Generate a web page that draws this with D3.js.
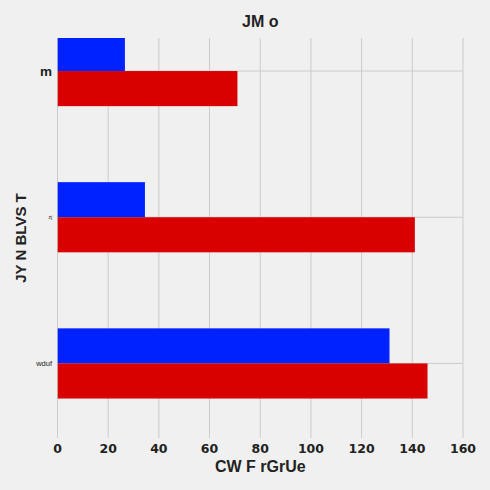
<!DOCTYPE html>
<html>
<head>
<meta charset="utf-8">
<script src="https://cdn.jsdelivr.net/npm/d3@7"></script>
<style>
	html, body { margin: 0; padding: 0; background: #f0f0f0; }
	svg { display: block; }
</style>
</head>
<body>
<div class="chart"></div>
<script>
	'use strict';

	// categories from bottom to top
	var categories = ['wduf', 'zj', 'm'];
	var blueValues = [131, 34.5, 26.6];
	var redValues = [146, 141, 71];
	var xTicks = [0, 20, 40, 60, 80, 100, 120, 140, 160];
	var labelSizes = { wduf: 7.5, zj: 5, m: 13.5 };
	var labelWeights = { wduf: 'normal', zj: 'normal', m: 'bold' };

	var width = 490, height = 490;
	var plot = { left: 57.5, right: 463, top: 38, bottom: 438 };
	var barSize = 0.24;

	var svg = d3.select('.chart').append('svg')
		.attr('width', width)
		.attr('height', height);

	svg.append('rect').attr('width', width).attr('height', height).attr('fill', '#f0f0f0');

	var x = d3.scaleLinear().domain([0, 160]).range([plot.left, plot.right]);
	var y = d3.scaleLinear().domain([-0.51, 2.226]).range([plot.bottom, plot.top]);

	svg.append('clipPath').attr('id', 'clip')
		.append('rect')
		.attr('x', plot.left).attr('y', plot.top)
		.attr('width', plot.right - plot.left).attr('height', plot.bottom - plot.top);

	// grid
	var grid = svg.append('g').attr('stroke', '#cbcbcb').attr('stroke-width', 1);
	grid.selectAll('line.v').data(xTicks).enter().append('line')
		.attr('x1', function(d) { return x(d); })
		.attr('x2', function(d) { return x(d); })
		.attr('y1', plot.top).attr('y2', plot.bottom);
	grid.selectAll('line.h').data(categories).enter().append('line')
		.attr('x1', plot.left).attr('x2', plot.right)
		.attr('y1', function(d, i) { return y(i); })
		.attr('y2', function(d, i) { return y(i); });

	// bars
	var bars = svg.append('g').attr('clip-path', 'url(#clip)');
	bars.selectAll('rect.blue').data(blueValues).enter().append('rect')
		.attr('x', x(0))
		.attr('y', function(d, i) { return y(i + barSize); })
		.attr('width', function(d) { return x(d) - x(0); })
		.attr('height', y(0) - y(barSize))
		.attr('fill', '#0022ff');
	bars.selectAll('rect.red').data(redValues).enter().append('rect')
		.attr('x', x(0))
		.attr('y', function(d, i) { return y(i); })
		.attr('width', function(d) { return x(d) - x(0); })
		.attr('height', y(0) - y(barSize))
		.attr('fill', '#d90000');

	// x tick labels
	svg.append('g').selectAll('text').data(xTicks).enter().append('text')
		.attr('x', function(d) { return x(d); })
		.attr('y', 453)
		.attr('text-anchor', 'middle')
		.attr('font-family', 'DejaVu Sans')
		.attr('font-weight', 'bold')
		.attr('font-size', 12.5)
		.attr('fill', '#222')
		.text(function(d) { return d; });

	// y tick labels
	svg.append('g').selectAll('text').data(categories).enter().append('text')
		.attr('x', 52)
		.attr('y', function(d, i) { return y(i); })
		.attr('dy', '0.35em')
		.attr('text-anchor', 'end')
		.attr('font-family', 'Liberation Sans')
		.attr('font-weight', function(d) { return labelWeights[d]; })
		.attr('font-size', function(d) { return labelSizes[d]; })
		.attr('fill', '#222')
		.text(function(d) { return d; });

	// titles
	svg.append('text')
		.attr('x', (plot.left + plot.right) / 2).attr('y', 27)
		.attr('text-anchor', 'middle')
		.attr('font-family', 'Liberation Sans').attr('font-weight', 'bold').attr('font-size', 16)
		.attr('fill', '#222')
		.text('JM o');

	svg.append('text')
		.attr('x', (plot.left + plot.right) / 2).attr('y', 472.3)
		.attr('text-anchor', 'middle')
		.attr('font-family', 'Liberation Sans').attr('font-weight', 'bold').attr('font-size', 16)
		.attr('fill', '#222')
		.text('CW F rGrUe');

	svg.append('text')
		.attr('transform', 'translate(26,' + (plot.top + plot.bottom) / 2 + ') rotate(-90)')
		.attr('text-anchor', 'middle')
		.attr('font-family', 'Liberation Sans').attr('font-weight', 'bold').attr('font-size', 15)
		.attr('fill', '#222')
		.text('JY N BLVS T');
</script>
</body>
</html>
